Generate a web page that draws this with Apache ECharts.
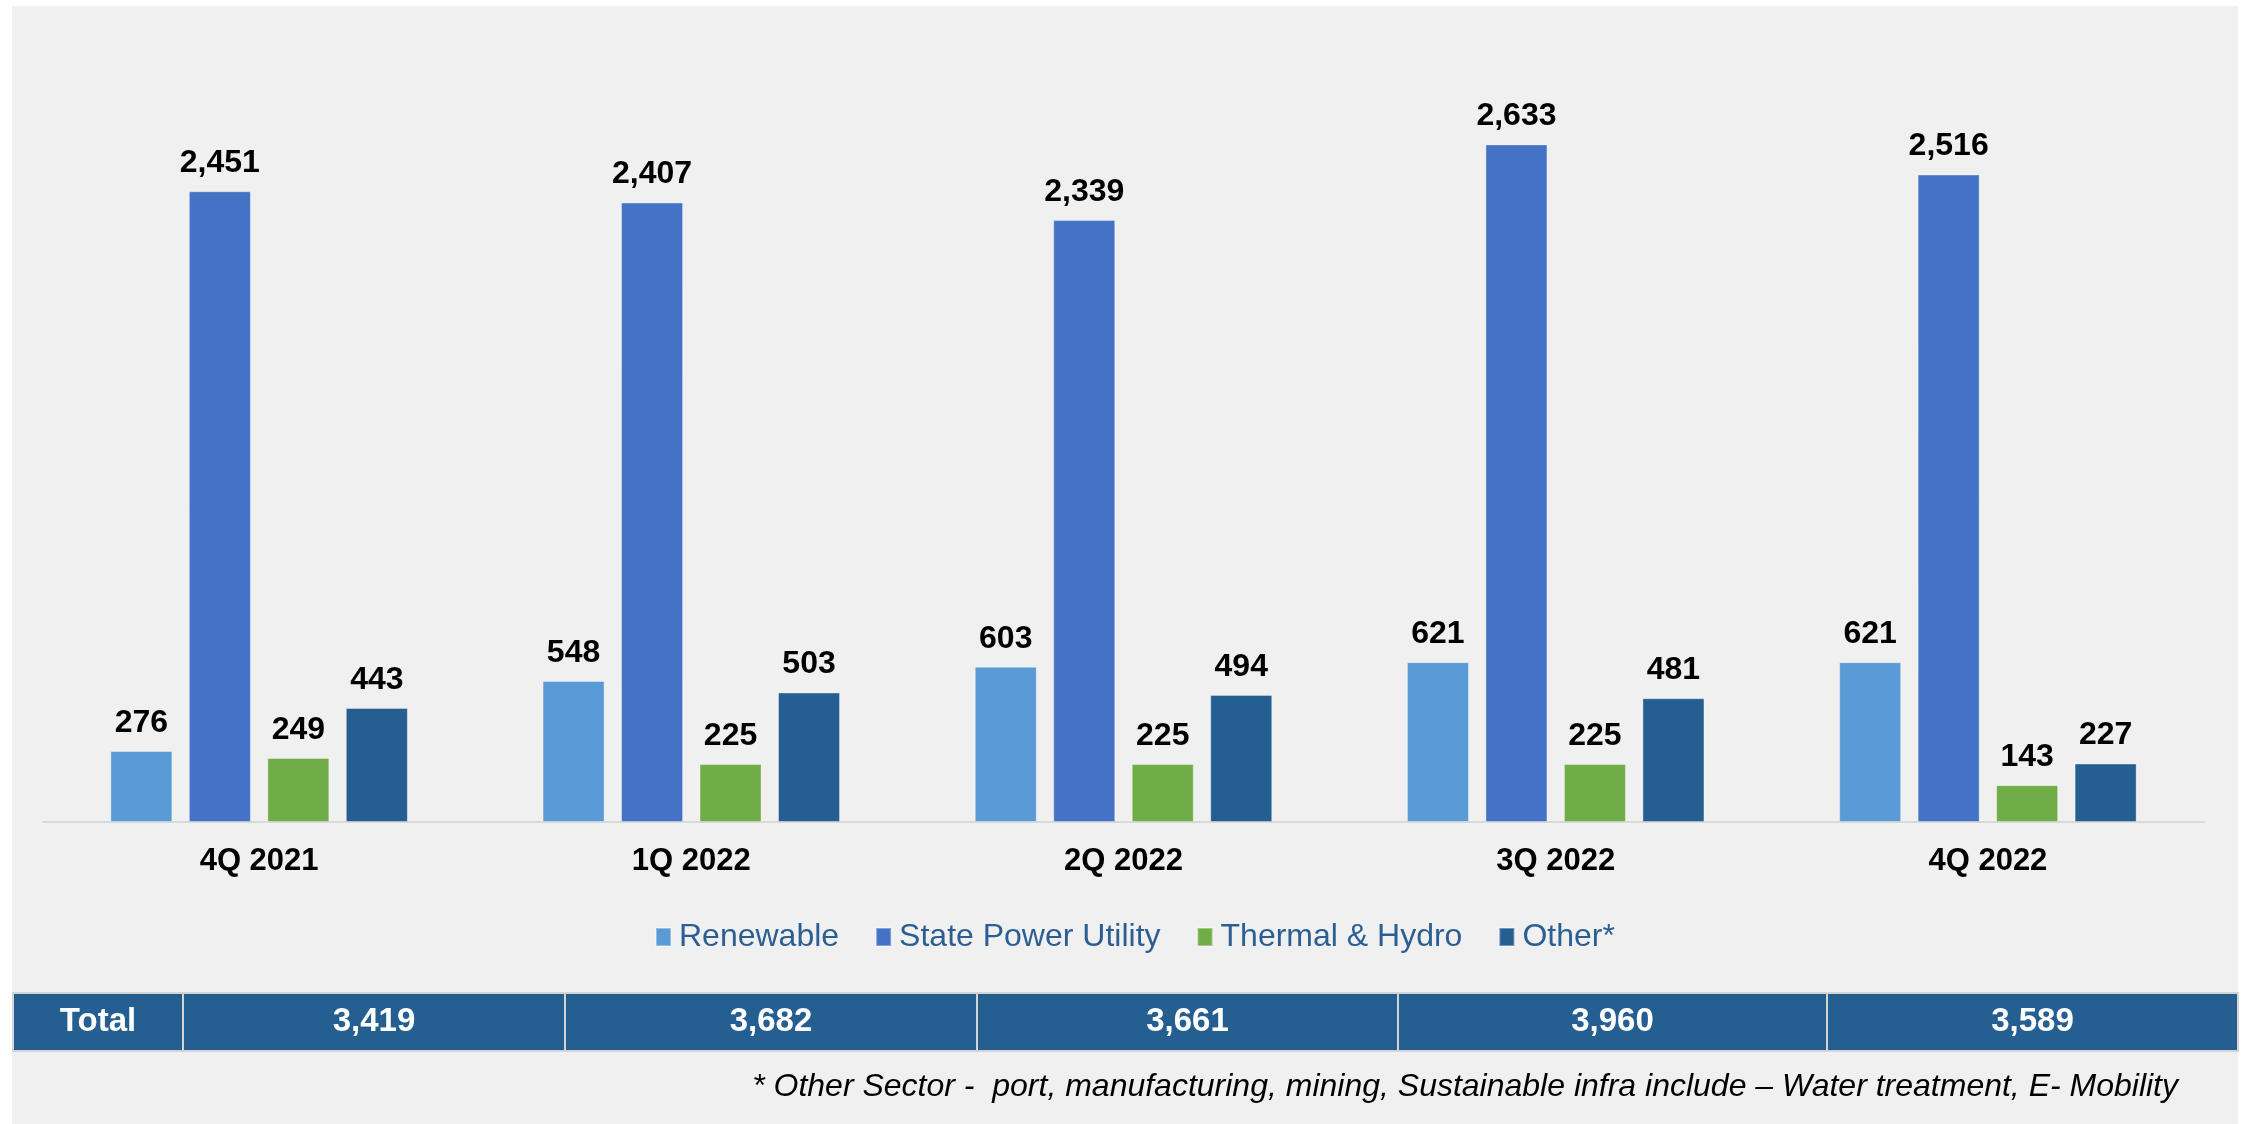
<!DOCTYPE html>
<html>
<head>
<meta charset="utf-8">
<script src="https://cdn.jsdelivr.net/npm/echarts@6/dist/echarts.min.js"></script>
<style>
html,body{margin:0;padding:0;background:#ffffff;}
#chart{width:2244px;height:1124px;}
</style>
</head>
<body>
<div id="chart"></div>
<script>
// ---- data ----
const categories = ['4Q 2021', '1Q 2022', '2Q 2022', '3Q 2022', '4Q 2022'];
const renewable = [276, 548, 603, 621, 621];
const statePower = [2451, 2407, 2339, 2633, 2516];
const thermalHydro = [249, 225, 225, 225, 143];
const other = [443, 503, 494, 481, 227];
const totals = ['3,419', '3,682', '3,661', '3,960', '3,589'];
const tableHeader = 'Total';
const footnote = '* Other Sector -  port, manufacturing, mining, Sustainable infra include \u2013 Water treatment, E- Mobility';

// ---- layout ----
const FONT = 'Arial, "Liberation Sans", sans-serif';
const colEdges = [13, 183, 565, 977, 1398, 1827, 2238];
const tableTop = 993, tableH = 58;

const chart = echarts.init(document.getElementById('chart'), null, {renderer: 'canvas'});

const labelCfg = {
  show: true, position: 'top', distance: 12,
  fontFamily: FONT, fontWeight: 'bold', fontSize: 32, color: '#000',
  formatter: p => p.value.toLocaleString('en-US')
};

function mkSeries(name, data, color) {
  return {
    name, type: 'bar', data,
    barWidth: 62, barGap: '26.6%',
    itemStyle: {color, borderColor: 'rgba(255,255,255,0.35)', borderWidth: 1},
    label: labelCfg,
    emphasis: {disabled: true}
  };
}

const graphics = [];
graphics.push({type: 'rect', z: -10, shape: {x: 12, y: 6, width: 2226, height: 1118}, style: {fill: '#f0f0f0'}, silent: true});
for (let i = 0; i < colEdges.length - 1; i++) {
  const x0 = colEdges[i], x1 = colEdges[i + 1];
  graphics.push({
    type: 'rect', shape: {x: x0, y: tableTop, width: x1 - x0, height: tableH},
    style: {fill: '#255e91', stroke: '#d4d4d4', lineWidth: 2}, silent: true
  });
  graphics.push({
    type: 'text', x: (x0 + x1) / 2, y: tableTop + tableH / 2,
    style: {text: i === 0 ? tableHeader : totals[i - 1], fill: '#ffffff', font: 'bold 33px ' + FONT, align: 'center', verticalAlign: 'middle'},
    silent: true
  });
}
graphics.push({
  type: 'text', x: 2178, y: 1087,
  style: {text: footnote, fill: '#000', font: 'italic 32px ' + FONT, align: 'right', verticalAlign: 'middle'},
  silent: true
});

chart.setOption({
  animation: false,
  backgroundColor: 'transparent',
  textStyle: {fontFamily: FONT},
  grid: {left: 43, right: 40, top: 50, bottom: 302, containLabel: false},
  xAxis: {
    type: 'category', data: categories,
    axisLine: {lineStyle: {color: '#d9d9d9', width: 2}},
    axisTick: {show: false},
    axisLabel: {fontFamily: FONT, fontWeight: 'bold', fontSize: 31, color: '#000', margin: 24}
  },
  yAxis: {type: 'value', min: 0, max: 3000, show: false, splitLine: {show: false}},
  legend: {
    left: 650, top: 916, icon: 'rect', itemWidth: 15, itemHeight: 18, itemGap: 36,
    textStyle: {fontFamily: FONT, fontSize: 32, color: '#2b5f93', padding: [0, 0, 0, 3]},
    data: ['Renewable', 'State Power Utility', 'Thermal & Hydro', 'Other*']
  },
  series: [
    mkSeries('Renewable', renewable, '#5b9bd5'),
    mkSeries('State Power Utility', statePower, '#4472c4'),
    mkSeries('Thermal & Hydro', thermalHydro, '#70ad47'),
    mkSeries('Other*', other, '#255e91')
  ],
  graphic: graphics
});
</script>
</body>
</html>
